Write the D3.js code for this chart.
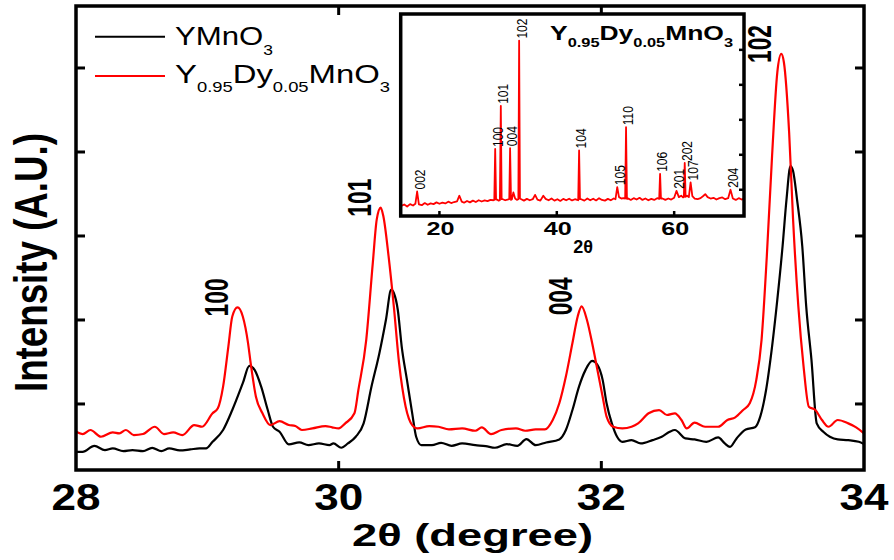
<!DOCTYPE html>
<html>
<head>
<meta charset="utf-8">
<script src="https://cdn.jsdelivr.net/npm/d3@7"></script>
<style>
  body { margin: 0; background: #fff; }
  svg { display: block; font-family: "Liberation Sans", Arial, sans-serif; }
</style>
</head>
<body>
<svg width="894" height="560"></svg>
<script>
// XRD patterns of YMnO3 and Y0.95Dy0.05MnO3, zoom 28-34 deg, with full-range inset

// main panel: YMnO3 (black)
const thetaY = [28.00, 28.05, 28.14, 28.22, 28.28, 28.36, 28.43, 28.51, 28.58, 28.65, 28.71, 28.79, 28.87, 28.94, 28.99,
  29.04, 29.12, 29.19, 29.27, 29.32, 29.36, 29.41, 29.46, 29.50, 29.55, 29.62, 29.70, 29.77, 29.85, 29.93, 29.96,
  30.02, 30.07, 30.13, 30.19, 30.25, 30.31, 30.36, 30.40, 30.42, 30.45, 30.48, 30.52, 30.56, 30.59, 30.63, 30.71,
  30.78, 30.86, 30.94, 31.04, 31.12, 31.19, 31.28, 31.36, 31.43, 31.50, 31.58, 31.68, 31.73, 31.78, 31.83, 31.88,
  31.93, 31.97, 32.01, 32.04, 32.08, 32.12, 32.16, 32.23, 32.30, 32.39, 32.46, 32.52, 32.56, 32.64, 32.71, 32.80,
  32.89, 32.94, 32.98, 33.03, 33.10, 33.17, 33.21, 33.25, 33.30, 33.34, 33.38, 33.41, 33.44, 33.46, 33.49, 33.53,
  33.56, 33.60, 33.64, 33.69, 33.74, 33.80, 33.88, 33.96, 34.00];
const intY = [430, 430, 502, 451, 471, 439, 451, 439, 478, 439, 471, 447, 459, 471, 471,
  550, 690, 928, 1247, 1454, 1406, 1206, 928, 729, 670, 520, 542, 510, 530, 510, 530,
  479, 530, 610, 769, 1207, 1605, 2003, 2361, 2321, 2122, 1684, 1287, 889, 610, 510, 510,
  538, 502, 530, 510, 498, 479, 522, 502, 582, 510, 542, 578, 690, 928, 1207, 1406,
  1513, 1466, 1287, 1008, 769, 610, 550, 570, 530, 570, 610, 669, 690, 590, 578, 550,
  602, 530, 490, 590, 697, 722, 849, 1127, 1684, 2242, 2878, 3436, 3833, 3774, 3436, 2878,
  2162, 1525, 769, 669, 610, 578, 570, 550, 522];

// main panel: Y0.95Dy0.05MnO3 (red)
const thetaDy = [28.00, 28.05, 28.11, 28.19, 28.28, 28.33, 28.38, 28.44, 28.51, 28.60, 28.67, 28.74, 28.81, 28.90, 28.96,
  29.04, 29.08, 29.12, 29.16, 29.19, 29.23, 29.27, 29.31, 29.33, 29.37, 29.42, 29.48, 29.55, 29.62, 29.67, 29.72,
  29.80, 29.90, 29.95, 30.00, 30.05, 30.12, 30.15, 30.21, 30.26, 30.29, 30.32, 30.34, 30.38, 30.42, 30.46, 30.51,
  30.56, 30.60, 30.69, 30.76, 30.84, 30.94, 31.04, 31.09, 31.16, 31.24, 31.35, 31.42, 31.50, 31.57, 31.63, 31.68,
  31.73, 31.78, 31.82, 31.85, 31.89, 31.93, 31.97, 32.01, 32.04, 32.09, 32.16, 32.23, 32.28, 32.36, 32.44, 32.50,
  32.56, 32.61, 32.65, 32.71, 32.79, 32.89, 32.96, 33.02, 33.08, 33.13, 33.18, 33.22, 33.26, 33.30, 33.34, 33.37,
  33.39, 33.43, 33.46, 33.50, 33.54, 33.58, 33.63, 33.68, 33.73, 33.80, 33.88, 33.94, 34.00];
const intDy = [669, 642, 690, 610, 662, 650, 690, 630, 642, 729, 642, 662, 630, 749, 729,
  889, 949, 1207, 1684, 2042, 2150, 2042, 1725, 1486, 1087, 889, 749, 795, 750, 737, 690,
  709, 737, 722, 709, 769, 889, 1167, 1764, 2680, 3197, 3337, 3237, 2759, 2162, 1486, 968,
  749, 709, 737, 729, 697, 709, 681, 722, 642, 690, 709, 681, 697, 697, 809, 1008,
  1326, 1725, 2042, 2162, 2003, 1725, 1406, 1087, 849, 729, 709, 729, 769, 889, 928, 869,
  889, 809, 709, 777, 729, 729, 809, 841, 928, 1008, 1287, 1764, 2759, 3953, 4949, 5167,
  5068, 4232, 3197, 2162, 1446, 968, 928, 809, 729, 809, 769, 722, 650];

const peakNames = ["100", "101", "004", "102"];
const peakTheta = [29.23, 30.32, 31.85, 33.37];
const peakInt = [2150, 3337, 2162, 5167];

const xTicks = [28, 30, 32, 34];
const yTicks = [1000, 2000, 3000, 4000, 5000];

// inset: full pattern of Y0.95Dy0.05MnO3
const insetTheta = [13.5, 14.0, 14.5, 15.0, 15.5, 15.9, 16.2, 16.5, 17.0, 17.5, 18.0, 18.5, 19.0, 19.5, 20.0,
  20.5, 21.0, 21.5, 22.0, 22.5, 23.0, 23.4, 23.8, 24.2, 24.7, 25.2, 25.7, 26.2, 26.7, 27.2, 27.7,
  28.2, 28.7, 29.2, 29.35, 29.5, 29.65, 29.8, 30.1, 30.3, 30.46, 30.6, 30.8, 31.2, 31.6, 31.9, 32.04,
  32.2, 32.35, 32.6, 32.9, 33.2, 33.45, 33.58, 33.72, 33.95, 34.4, 34.9, 35.4, 35.9, 36.3, 36.7,
  37.2, 37.7, 38.1, 38.6, 39.1, 39.6, 40.1, 40.6, 41.1, 41.6, 42.1, 42.6, 43.1, 43.45, 43.65, 43.8,
  43.95, 44.15, 44.7, 45.2, 45.7, 46.2, 46.7, 47.2, 47.7, 48.2, 48.7, 49.2, 49.7, 50.0, 50.3, 50.6,
  51.0, 51.4, 51.65, 51.8, 51.95, 52.2, 52.6, 53.1, 53.6, 54.1, 54.6, 55.1, 55.6, 56.1, 56.6, 57.1,
  57.45, 57.6, 57.75, 58.0, 58.5, 59.0, 59.5, 60.0, 60.4, 60.8, 61.2, 61.5, 61.65, 61.8, 61.95, 62.2,
  62.5, 62.8, 63.1, 63.5, 64.0, 64.5, 65.0, 65.3, 65.7, 66.2, 66.7, 67.2, 67.7, 68.2, 68.7, 69.2,
  69.6, 70.0, 70.5, 71.0, 71.5, 71.9];
const insetInt = [108, 116, 104, 118, 110, 120, 190, 116, 112, 124, 114, 122, 118, 128, 120,
  126, 122, 132, 124, 130, 134, 166, 132, 126, 136, 128, 138, 130, 140, 133, 139,
  135, 142, 140, 142, 433, 144, 144, 138, 140, 680, 146, 146, 140, 144, 146, 438,
  142, 146, 185, 150, 142, 146, 1053, 150, 146, 138, 148, 140, 146, 171, 144,
  138, 166, 148, 140, 150, 138, 146, 136, 148, 140, 149, 139, 146, 142, 140, 425,
  146, 146, 138, 150, 140, 149, 139, 152, 142, 138, 148, 140, 150, 146, 215, 158,
  150, 152, 150, 558, 148, 150, 142, 152, 144, 154, 142, 150, 140, 148, 142, 152,
  148, 291, 150, 150, 142, 150, 144, 154, 194, 158, 166, 156, 158, 353, 160, 166,
  158, 242, 164, 150, 146, 152, 166, 175, 158, 150, 154, 144, 152, 156, 146, 152,
  200, 150, 142, 152, 144, 150];

const insetNames = ["002", "100", "101", "004", "102", "104", "105", "110", "106", "201", "202", "107", "204"];
const insetPeakTheta = [16.2, 29.5, 30.46, 32.04, 33.58, 43.8, 50.3, 51.8, 57.6, 60.4, 61.8, 62.8, 69.6];
const insetPeakInt = [190, 433, 680, 438, 1053, 425, 215, 558, 291, 194, 353, 242, 200];

const insetXTicks = [20, 40, 60];
const insetYTicks = [200, 400, 600, 800, 1000];

//selecting root svg
const svg = d3.select("svg");
const RED = "#ff0000";

// main plot frame
const mLeft = 76, mRight = 864, mTop = 6, mBottom = 470;
const x = d3.scaleLinear().domain([28, 34]).range([mLeft, mRight]);
const y = d3.scaleLinear().domain([214, 5738]).range([mBottom, mTop]);

svg.append("clipPath").attr("id", "clipMain")
  .append("rect").attr("x", mLeft).attr("y", mTop).attr("width", mRight - mLeft).attr("height", mBottom - mTop);

const line = d3.line().x((d) => x(d[0])).y((d) => y(d[1])).curve(d3.curveMonotoneX);
const blackData = thetaY.map((t, i) => [t, intY[i]]);
const redData = thetaDy.map((t, i) => [t, intDy[i]]);

const curves = svg.append("g").attr("clip-path", "url(#clipMain)");
curves.append("path").datum(blackData).attr("d", line)
  .attr("fill", "none").attr("stroke", "#000").attr("stroke-width", 2.2).attr("stroke-linejoin", "round");
curves.append("path").datum(redData).attr("d", line)
  .attr("fill", "none").attr("stroke", RED).attr("stroke-width", 2.2).attr("stroke-linejoin", "round");

// ticks pointing inward on all four sides
const tickLen = 9;
const axisG = svg.append("g").attr("stroke", "#000").attr("stroke-width", 3);
xTicks.slice(1, -1).forEach((t) => {
  axisG.append("line").attr("x1", x(t)).attr("x2", x(t)).attr("y1", mBottom).attr("y2", mBottom - tickLen);
  axisG.append("line").attr("x1", x(t)).attr("x2", x(t)).attr("y1", mTop).attr("y2", mTop + tickLen);
});
yTicks.forEach((t) => {
  axisG.append("line").attr("x1", mLeft).attr("x2", mLeft + tickLen).attr("y1", y(t)).attr("y2", y(t));
  axisG.append("line").attr("x1", mRight).attr("x2", mRight - tickLen).attr("y1", y(t)).attr("y2", y(t));
});
svg.append("rect").attr("x", mLeft).attr("y", mTop).attr("width", mRight - mLeft).attr("height", mBottom - mTop)
  .attr("fill", "none").attr("stroke", "#000").attr("stroke-width", 3.5);

// tick labels
svg.append("g").selectAll("text").data(xTicks).enter().append("text")
  .attr("x", (d) => x(d)).attr("y", 510)
  .attr("text-anchor", "middle").attr("font-size", 37).attr("font-weight", "bold")
  .attr("textLength", 49).attr("lengthAdjust", "spacingAndGlyphs")
  .text((d) => d);

// axis titles
svg.append("text").attr("x", 472.5).attr("y", 546)
  .attr("text-anchor", "middle").attr("font-size", 32).attr("font-weight", "bold")
  .attr("textLength", 241).attr("lengthAdjust", "spacingAndGlyphs")
  .text("2θ (degree)");

svg.append("g").attr("transform", "translate(46.7,262.5) scale(1.27,1) rotate(-90)")
  .append("text").attr("text-anchor", "middle").attr("font-size", 36).attr("font-weight", "bold")
  .attr("textLength", 259).attr("lengthAdjust", "spacingAndGlyphs")
  .text("Intensity (A.U.)");

// peak labels on main plot
peakNames.forEach((name, i) => {
  svg.append("g")
    .attr("transform", `translate(${x(peakTheta[i]) - 10},${y(peakInt[i]) + 9}) scale(1.28,1) rotate(-90)`)
    .append("text").attr("font-size", 26).attr("font-weight", "bold")
    .attr("textLength", 38).attr("lengthAdjust", "spacingAndGlyphs")
    .text(name);
});

// legend
const legend = svg.append("g");
legend.append("line").attr("x1", 95).attr("x2", 165).attr("y1", 36.7).attr("y2", 36.7)
  .attr("stroke", "#000").attr("stroke-width", 2);
legend.append("line").attr("x1", 95).attr("x2", 165).attr("y1", 76).attr("y2", 76)
  .attr("stroke", RED).attr("stroke-width", 2);

const leg1 = legend.append("text").attr("x", 175).attr("y", 45).attr("font-size", 25)
  .attr("textLength", 98).attr("lengthAdjust", "spacingAndGlyphs");
leg1.append("tspan").text("YMnO");
leg1.append("tspan").attr("font-size", 14).attr("dy", 10).text("3");

const leg2 = legend.append("text").attr("x", 175).attr("y", 83).attr("font-size", 25)
  .attr("textLength", 215).attr("lengthAdjust", "spacingAndGlyphs");
leg2.append("tspan").text("Y");
leg2.append("tspan").attr("font-size", 14).attr("dy", 9).text("0.95");
leg2.append("tspan").attr("dy", -9).text("Dy");
leg2.append("tspan").attr("font-size", 14).attr("dy", 9).text("0.05");
leg2.append("tspan").attr("dy", -9).text("MnO");
leg2.append("tspan").attr("font-size", 14).attr("dy", 9).text("3");

// ---------------- inset ----------------
const iL = 400.7, iR = 744, iT = 14, iB = 216;
const xI = d3.scaleLinear().domain([13.4, 71.9]).range([iL, iR]);
const yI = d3.scaleLinear().domain([50, 1205]).range([iB, iT]);

const inset = svg.append("g");
inset.append("rect").attr("x", iL).attr("y", iT).attr("width", iR - iL).attr("height", iB - iT)
  .attr("fill", "#fff");

const insetLine = d3.line().x((d) => xI(d[0])).y((d) => yI(d[1]));
inset.append("path").datum(insetTheta.map((t, i) => [t, insetInt[i]])).attr("d", insetLine)
  .attr("fill", "none").attr("stroke", RED).attr("stroke-width", 1.8).attr("stroke-linejoin", "round");

const iTick = 5;
const iAxis = inset.append("g").attr("stroke", "#000").attr("stroke-width", 2.5);
insetXTicks.forEach((t) => {
  iAxis.append("line").attr("x1", xI(t)).attr("x2", xI(t)).attr("y1", iB).attr("y2", iB - iTick);
});
insetYTicks.forEach((t) => {
  iAxis.append("line").attr("x1", iR).attr("x2", iR - iTick).attr("y1", yI(t)).attr("y2", yI(t));
});
inset.append("rect").attr("x", iL).attr("y", iT).attr("width", iR - iL).attr("height", iB - iT)
  .attr("fill", "none").attr("stroke", "#000").attr("stroke-width", 3.5);

inset.selectAll(".itick").data(insetXTicks).enter().append("text")
  .attr("class", "itick")
  .attr("x", (d) => xI(d) + 1).attr("y", 235)
  .attr("text-anchor", "middle").attr("font-size", 19).attr("font-weight", "bold")
  .attr("textLength", 28).attr("lengthAdjust", "spacingAndGlyphs")
  .text((d) => d);

inset.append("text").attr("x", xI(44.5)).attr("y", 253)
  .attr("text-anchor", "middle").attr("font-size", 18).attr("font-weight", "bold")
  .text("2θ");

// inset title
const iTitle = inset.append("text").attr("x", 550).attr("y", 40)
  .attr("font-size", 21).attr("font-weight", "bold")
  .attr("textLength", 183).attr("lengthAdjust", "spacingAndGlyphs");
iTitle.append("tspan").text("Y");
iTitle.append("tspan").attr("font-size", 13).attr("dy", 7).text("0.95");
iTitle.append("tspan").attr("dy", -7).text("Dy");
iTitle.append("tspan").attr("font-size", 13).attr("dy", 7).text("0.05");
iTitle.append("tspan").attr("dy", -7).text("MnO");
iTitle.append("tspan").attr("font-size", 13).attr("dy", 7).text("3");

// inset peak labels
insetNames.forEach((name, i) => {
  inset.append("g")
    .attr("transform", `translate(${xI(insetPeakTheta[i]) + 2},${yI(insetPeakInt[i]) - 2}) scale(1.28,1) rotate(-90)`)
    .append("text").attr("font-size", 12).attr("dy", "0.35em")
    .text(name);
});
</script>
</body>
</html>
